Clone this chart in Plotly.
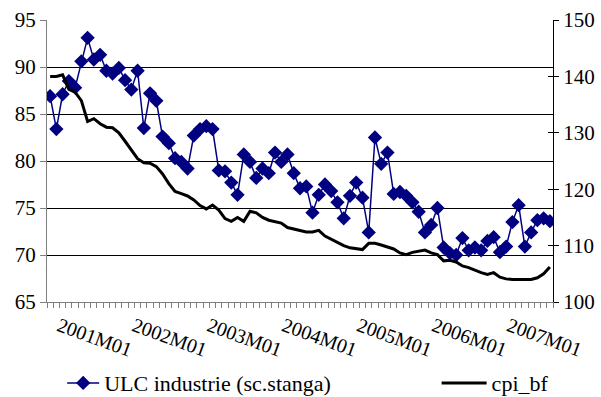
import plotly.graph_objects as go

# monthly categories 2001M01 .. 2007M09
months = [f"{y}M{m:02d}" for y in range(2001, 2008) for m in range(1, 13)][:81]

ulc = [86.9, 83.4, 87.1, 88.5, 87.8, 90.6, 93.1, 90.8, 91.3, 89.6, 89.3, 89.9,
       88.6, 87.6, 89.6, 83.5, 87.2, 86.4, 82.6, 81.9, 80.3, 79.9, 79.2, 82.7,
       83.4, 83.7, 83.4, 79.0, 78.9, 77.7, 76.4, 80.7, 79.9, 78.2, 79.2, 78.7,
       80.9, 79.9, 80.7, 78.7, 77.1, 77.3, 74.5, 76.4, 77.5, 76.8, 75.6, 73.9,
       76.3, 77.7, 76.1, 72.4, 82.5, 79.7, 80.9, 76.5, 76.7, 76.3, 75.6, 74.6,
       72.4, 73.2, 75.0, 70.8, 70.2, 70.0, 71.8, 70.5, 70.8, 70.5, 71.5, 71.9,
       70.3, 70.9, 73.5, 75.3, 70.9, 72.4, 73.7, 73.9, 73.6]

cpi = [140.0, 140.0, 140.3, 137.7, 137.2, 135.7, 132.0, 132.5, 131.6, 131.0, 130.9, 130.0,
       128.5, 127.0, 125.4, 124.7, 124.6, 124.0, 122.7, 121.0, 119.6, 119.2, 118.8, 118.1,
       117.1, 116.5, 117.2, 116.3, 114.8, 114.3, 115.0, 114.3, 116.1, 115.8, 115.0, 114.5,
       114.2, 114.0, 113.2, 112.9, 112.6, 112.4, 112.4, 112.7, 111.7, 111.1, 110.5, 110.0,
       109.6, 109.5, 109.3, 110.4, 110.4, 110.1, 109.8, 109.4, 108.7, 108.4, 108.8, 109.0,
       109.2, 108.7, 108.4, 107.3, 107.4, 107.1, 106.4, 106.1, 105.6, 105.2, 104.9, 105.2,
       104.4, 104.1, 104.0, 104.0, 104.0, 104.0, 104.3, 105.0, 106.2]

tick_idx = [i for i, m in enumerate(months) if m.endswith("M01")]
tick_txt = [months[i] for i in tick_idx]
x = list(range(len(months)))

FONT = "Liberation Serif"

fig = go.Figure()
fig.add_trace(go.Scatter(
    x=x, y=ulc, name="ULC industrie (sc.stanga)", mode="lines+markers",
    line=dict(color="#000080", width=1.5),
    marker=dict(symbol="diamond", size=11, color="#000080"),
    yaxis="y", legend="legend"))
fig.add_trace(go.Scatter(
    x=x, y=cpi, name="cpi_bf", mode="lines",
    line=dict(color="black", width=3),
    yaxis="y2", legend="legend2"))

leg_common = dict(orientation="h", xanchor="left", yref="container", y=0.035,
                  yanchor="middle", bgcolor="rgba(0,0,0,0)",
                  font=dict(family=FONT, size=22))

fig.update_layout(
    template="none",
    width=601, height=397,
    margin=dict(l=47, r=48, t=20, b=95, autoexpand=False),
    paper_bgcolor="white", plot_bgcolor="white",
    font=dict(family=FONT, size=20, color="black"),
    showlegend=True,
    legend=dict(x=0.03, itemwidth=32, **leg_common),
    legend2=dict(x=0.77, itemwidth=45, **leg_common),
    xaxis=dict(range=[-0.5, len(x) - 0.5], tickmode="array", tickvals=tick_idx,
               ticktext=tick_txt, tickangle=20, ticks="", showgrid=False,
               showline=True, linecolor="#808080", linewidth=1, zeroline=False,
               automargin=False, ticklabelshift=9, ticklabelstandoff=4,
               tickfont=dict(family=FONT, size=20),
               minor=dict(tickmode="linear", tick0=-0.5, dtick=1, ticks="outside",
                          ticklen=5, tickcolor="#808080", showgrid=False)),
    yaxis=dict(range=[65, 95], dtick=5, tick0=65, showgrid=True, gridcolor="black",
               gridwidth=1, showline=True, linecolor="#808080", linewidth=1,
               ticks="outside", ticklen=6, tickcolor="#808080", zeroline=False,
               automargin=False, tickfont=dict(family=FONT, size=21)),
    yaxis2=dict(range=[100, 150], dtick=10, tick0=100, overlaying="y", side="right",
                showgrid=False, showline=True, linecolor="black", linewidth=1,
                ticks="outside", ticklen=5, tickcolor="black", zeroline=False,
                automargin=False, tickfont=dict(family=FONT, size=21)),
    yaxis3=dict(range=[100, 150], dtick=10, tick0=100, overlaying="y", side="right",
                showgrid=False, showline=False, ticks="inside", ticklen=5,
                tickcolor="black", showticklabels=False, zeroline=False,
                automargin=False),
)
# invisible trace to activate the inside tick axis
fig.add_trace(go.Scatter(x=[x[0]], y=[cpi[0]], yaxis="y3", mode="markers",
                         marker=dict(opacity=0), showlegend=False, hoverinfo="skip"))

fig.write_html("out.html")
